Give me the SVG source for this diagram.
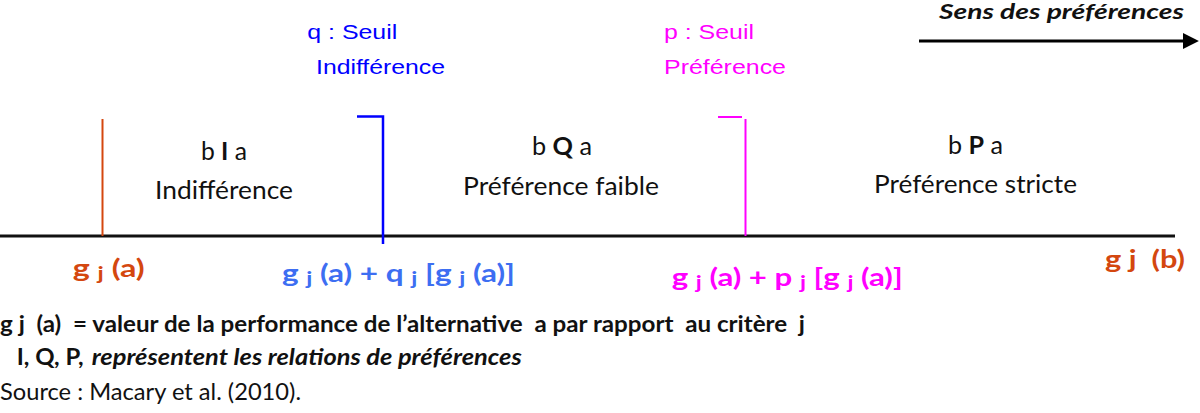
<svg xmlns="http://www.w3.org/2000/svg" width="1200" height="413" viewBox="0 0 1200 413">
<style>
.cal{font-family:Lato,"Open Sans","Noto Sans",sans-serif;}
.ari{font-family:"Liberation Sans",Arial,sans-serif;font-size:21px;}
.mid{font-size:25px;fill:#111;}
.lbl{font-size:25px;font-weight:bold;}
.foot{font-size:22.5px;fill:#111;}
.b{font-weight:bold;}
.sub{font-size:19px;}
.orange{fill:#D4470F;}
.blue{fill:#0000FF;}
.lblue{fill:#3D6EF2;}
.mag{fill:#FF00FF;}
</style>
<defs>
<marker id="ah" viewBox="0 0 10 10" refX="0" refY="5" markerWidth="6" markerHeight="5.3" markerUnits="strokeWidth" orient="auto">
<path d="M0,0 L10,5 L0,10 Z" fill="#000"/>
</marker>
</defs>
<rect width="1200" height="413" fill="#fff"/>

<g id="connectors">
<line x1="0" y1="236" x2="1175" y2="236" stroke="#111" stroke-width="3"/>
<line x1="919" y1="41" x2="1183" y2="41" stroke="#000" stroke-width="3" marker-end="url(#ah)"/>
<line x1="102.5" y1="119" x2="102.5" y2="236" stroke="#D4470F" stroke-width="2"/>
<polyline points="357,116.5 383,116.5 383,244" fill="none" stroke="#0000FF" stroke-width="2.5"/>
<line x1="718" y1="117" x2="742" y2="117" stroke="#FF00FF" stroke-width="2"/>
<line x1="745.5" y1="119" x2="745.5" y2="236" stroke="#FF00FF" stroke-width="2"/>
</g>

<g id="title">
<text class="cal b" x="939" y="19" font-size="21" font-style="italic" fill="#111" textLength="245" lengthAdjust="spacingAndGlyphs">Sens des préférences</text>
</g>

<g id="seuil-q">
<text class="ari blue" x="307.3" y="39" textLength="90" lengthAdjust="spacingAndGlyphs">q : Seuil</text>
<text class="ari blue" x="316" y="74" textLength="129" lengthAdjust="spacingAndGlyphs">Indifférence</text>
</g>

<g id="seuil-p">
<text class="ari mag" x="664" y="39" textLength="90" lengthAdjust="spacingAndGlyphs">p : Seuil</text>
<text class="ari mag" x="664" y="74" textLength="122" lengthAdjust="spacingAndGlyphs">Préférence</text>
</g>

<g id="zone-I">
<text class="cal mid" x="201" y="160" textLength="46" lengthAdjust="spacingAndGlyphs">b <tspan class="b">I</tspan> a</text>
<text class="cal mid" x="155" y="199" textLength="138" lengthAdjust="spacingAndGlyphs">Indifférence</text>
</g>

<g id="zone-Q">
<text class="cal mid" x="532" y="155" textLength="60" lengthAdjust="spacingAndGlyphs">b <tspan class="b">Q</tspan> a</text>
<text class="cal mid" x="463" y="195" textLength="196" lengthAdjust="spacingAndGlyphs">Préférence faible</text>
</g>

<g id="zone-P">
<text class="cal mid" x="948" y="154" textLength="55" lengthAdjust="spacingAndGlyphs">b <tspan class="b">P</tspan> a</text>
<text class="cal mid" x="874" y="193" textLength="203" lengthAdjust="spacingAndGlyphs">Préférence stricte</text>
</g>

<g id="label-gja">
<text class="cal lbl orange" x="72.7" y="277" textLength="72" lengthAdjust="spacingAndGlyphs">g <tspan class="sub" dy="3">j</tspan><tspan dy="-3"> (a)</tspan></text>
</g>

<g id="label-q">
<text class="cal lbl lblue" x="282" y="282" textLength="233" lengthAdjust="spacingAndGlyphs">g <tspan class="sub" dy="3">j</tspan><tspan dy="-3"> (a) + q </tspan><tspan class="sub" dy="3">j</tspan><tspan dy="-3"> [g </tspan><tspan class="sub" dy="3">j</tspan><tspan dy="-3"> (a)]</tspan></text>
</g>

<g id="label-p">
<text class="cal lbl mag" x="671.7" y="286" textLength="231" lengthAdjust="spacingAndGlyphs">g <tspan class="sub" dy="3">j</tspan><tspan dy="-3"> (a) + p </tspan><tspan class="sub" dy="3">j</tspan><tspan dy="-3"> [g </tspan><tspan class="sub" dy="3">j</tspan><tspan dy="-3"> (a)]</tspan></text>
</g>

<g id="label-gjb">
<text class="cal lbl orange" x="1105" y="268" textLength="80" lengthAdjust="spacingAndGlyphs" xml:space="preserve">g j  (b)</text>
</g>

<g id="legend">
<text class="cal foot b" x="0" y="332" textLength="805" lengthAdjust="spacingAndGlyphs" xml:space="preserve">g j  (a)  = valeur de la performance de l’alternative  a par rapport  au critère  j</text>
<text class="cal foot b" x="16.7" y="365" textLength="67" lengthAdjust="spacingAndGlyphs">I, Q, P,</text>
<text class="cal foot b" x="91.7" y="365" font-style="italic" textLength="430" lengthAdjust="spacingAndGlyphs">représentent les relations de préférences</text>
<text class="cal foot" x="0" y="400" textLength="301" lengthAdjust="spacingAndGlyphs">Source : Macary et al. (2010).</text>
</g>
</svg>
